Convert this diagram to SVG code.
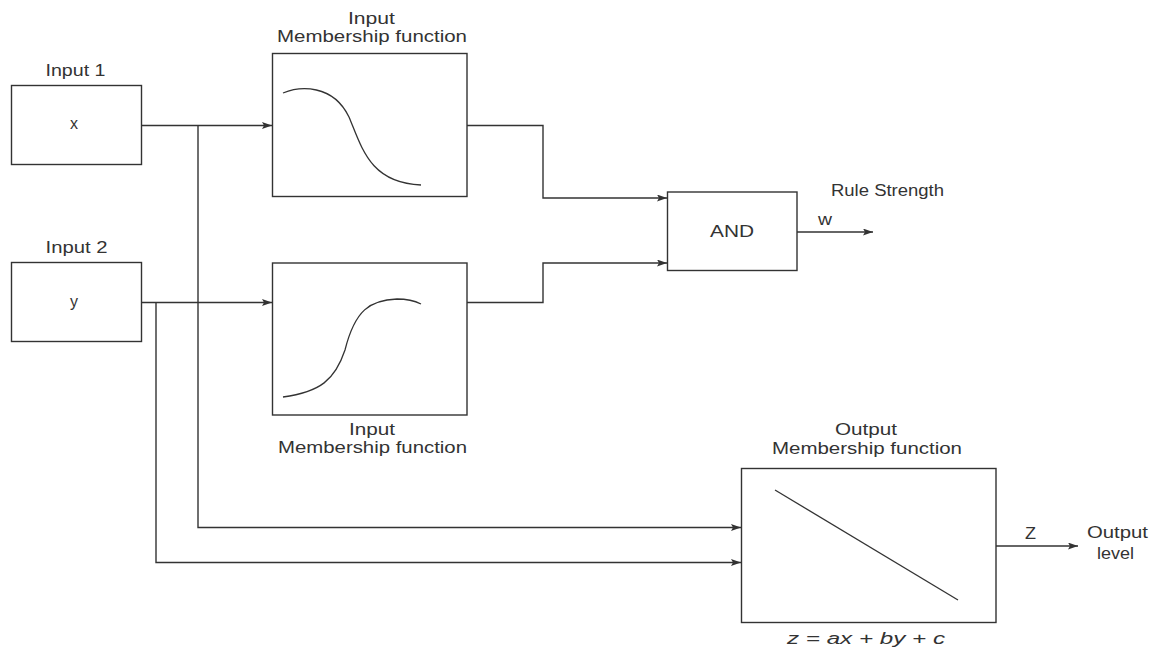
<svg xmlns="http://www.w3.org/2000/svg" width="1152" height="650" viewBox="0 0 1152 650">
<defs>
<marker id="arr" markerUnits="userSpaceOnUse" markerWidth="11" markerHeight="8" refX="10" refY="3.5" orient="auto">
<path d="M0,0 L10,3.5 L0,7 L2,3.5 z" fill="#333"/>
</marker>
<style>
text{font-family:"Liberation Sans",Arial,sans-serif;font-size:16px;fill:#333}
.box{fill:#fff;stroke:#333;stroke-width:1.4}
.curve{fill:none;stroke:#333;stroke-width:1.3}
.con{fill:none;stroke:#333;stroke-width:1.4}
.arr{marker-end:url(#arr)}
</style>
</defs>
<rect width="1152" height="650" fill="#fff"/>
<g id="connectors">
<path class="con arr" d="M141,125.5 H272"/>
<path class="con arr" d="M198,125.5 V527.5 H741"/>
<path class="con arr" d="M141,302.5 H272"/>
<path class="con arr" d="M156,302.5 V562.5 H741"/>
<path class="con arr" d="M467,125.5 H543 V198 H667"/>
<path class="con arr" d="M467,302.5 H543 V263 H667"/>
<path class="con arr" d="M797,232 H873"/>
<path class="con arr" d="M996,546 H1078"/>
</g>
<g id="input1">
<rect class="box" x="11.5" y="85.5" width="130" height="79"/>
<text x="45.5" y="76" textLength="60" lengthAdjust="spacingAndGlyphs">Input 1</text>
<text x="74" y="129" text-anchor="middle">x</text>
</g>
<g id="input2">
<rect class="box" x="11.5" y="262.5" width="130" height="79"/>
<text x="45.5" y="253" textLength="62" lengthAdjust="spacingAndGlyphs">Input 2</text>
<text x="74" y="307" text-anchor="middle">y</text>
</g>
<g id="mf-top">
<rect class="box" x="272.5" y="53.5" width="194.5" height="143"/>
<text x="348" y="24" textLength="47" lengthAdjust="spacingAndGlyphs">Input</text>
<text x="277" y="42" textLength="190" lengthAdjust="spacingAndGlyphs">Membership function</text>
<path class="curve" d="M283,93 C300,86 333,84 349,117 C362,148 370,183 421,185"/>
</g>
<g id="mf-bottom">
<rect class="box" x="272.5" y="263" width="194.5" height="152"/>
<text x="349" y="435" textLength="46" lengthAdjust="spacingAndGlyphs">Input</text>
<text x="278" y="453" textLength="189" lengthAdjust="spacingAndGlyphs">Membership function</text>
<path class="curve" d="M283,397 C320,392 335,380 345,350 C355,310 370,300 397,299 C407,299 415,301 421,304"/>
</g>
<g id="and">
<rect class="box" x="667.5" y="192" width="129.5" height="78.5"/>
<text x="710" y="237" textLength="44" lengthAdjust="spacingAndGlyphs">AND</text>
<text x="818" y="225" textLength="14" lengthAdjust="spacingAndGlyphs">w</text>
<text x="831" y="196" textLength="113" lengthAdjust="spacingAndGlyphs">Rule Strength</text>
</g>
<g id="mf-output">
<rect class="box" x="741.5" y="468.5" width="254.5" height="154"/>
<text x="835" y="435" textLength="62" lengthAdjust="spacingAndGlyphs">Output</text>
<text x="772" y="454" textLength="190" lengthAdjust="spacingAndGlyphs">Membership function</text>
<path class="curve" d="M775,490 L958,600"/>
<text x="787" y="644" textLength="158" lengthAdjust="spacingAndGlyphs" font-style="italic">z = ax + by + c</text>
</g>
<g id="output-level">
<text x="1025" y="539" textLength="11" lengthAdjust="spacingAndGlyphs">Z</text>
<text x="1087" y="538" textLength="61" lengthAdjust="spacingAndGlyphs">Output</text>
<text x="1097" y="559" textLength="37" lengthAdjust="spacingAndGlyphs">level</text>
</g>
</svg>
